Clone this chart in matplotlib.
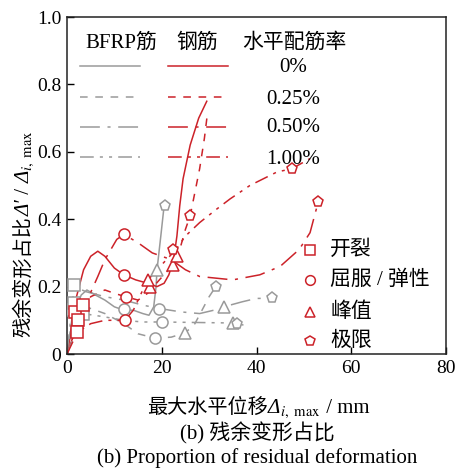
import matplotlib
matplotlib.use("Agg")
import matplotlib.pyplot as plt

plt.rcParams['font.family'] = ['Liberation Serif', 'Noto Sans CJK SC']
plt.rcParams['mathtext.fontset'] = 'stix'

RED = '#cc2229'
GRAY = '#9a9a9a'

ratios = ['0%', '0.25%', '0.50%', '1.00%']

# curves ----------------------------------------------------------------------
# BFRP bars
bfrp_x = [
    [0, 1, 2, 3, 4.2, 6, 8, 10, 12, 14, 16, 17.3, 18.3, 18.8, 19, 19.8, 20.5],
    [0, 1.5, 4, 8, 12, 15, 18.6, 22, 25, 27, 28.5, 30, 31.4],
    [0, 1.5, 4, 8, 12, 16, 19.5, 24, 28, 31, 33.1, 37, 40, 43.2],
    [0, 3.4, 8, 12, 16, 20, 25, 30, 35, 35.9, 38.2],
]
bfrp_y = [
    [0, 0.08, 0.14, 0.175, 0.19, 0.175, 0.16, 0.14, 0.13, 0.13, 0.12, 0.115, 0.14, 0.2, 0.25, 0.35, 0.44],
    [0, 0.15, 0.14, 0.12, 0.09, 0.06, 0.047, 0.05, 0.063, 0.09, 0.13, 0.17, 0.2],
    [0, 0.2, 0.185, 0.17, 0.16, 0.145, 0.135, 0.125, 0.12, 0.13, 0.14, 0.155, 0.165, 0.165],
    [0, 0.12, 0.11, 0.1, 0.095, 0.095, 0.094, 0.093, 0.092, 0.09, 0.083],
]

# steel bars
steel_x = [
    [0, 1, 2, 3.5, 5, 6.5, 8, 10, 12, 14.5, 17, 19, 20.5, 21.5, 22.5, 23.2, 23.8, 24.5, 26, 27.8, 29.5],
    [0, 2.5, 5, 8, 10, 12.4, 15, 17, 19.5, 22.4, 24, 25, 26, 27, 28, 29, 29.7],
    [0, 3, 6.5, 8, 10.5, 12, 15, 18, 22, 25, 28, 35, 40.7, 45, 49, 51.3, 53],
    [0, 2.2, 5, 8, 12.2, 14, 16, 17.1, 19, 21, 23, 25, 28, 31.6, 34.4, 38.6, 44.3, 47.5, 51.3],
]
steel_y = [
    [0, 0.08, 0.17, 0.25, 0.29, 0.305, 0.29, 0.255, 0.235, 0.22, 0.21, 0.2, 0.21, 0.235, 0.28, 0.35, 0.44, 0.52, 0.62, 0.7, 0.75],
    [0, 0.1, 0.17, 0.19, 0.18, 0.17, 0.16, 0.18, 0.22, 0.265, 0.32, 0.37, 0.41, 0.48, 0.55, 0.64, 0.72],
    [0, 0.12, 0.23, 0.28, 0.34, 0.355, 0.33, 0.3, 0.28, 0.25, 0.23, 0.22, 0.235, 0.26, 0.31, 0.36, 0.45],
    [0, 0.065, 0.09, 0.1, 0.1, 0.13, 0.19, 0.22, 0.25, 0.28, 0.31, 0.35, 0.39, 0.43, 0.46, 0.5, 0.54, 0.55, 0.58],
]

# stage markers (one per reinforcement ratio) ---------------------------------
bfrp_crack_x = [1.2, 1.5, 1.5, 3.4]
bfrp_crack_y = [0.13, 0.15, 0.205, 0.12]
bfrp_yield_x = [12, 18.6, 19.4, 20]
bfrp_yield_y = [0.135, 0.047, 0.135, 0.095]
bfrp_peak_x = [19, 24.9, 33.1, 35]
bfrp_peak_y = [0.25, 0.063, 0.14, 0.092]
bfrp_ult_x = [20.7, 31.4, 43.2, 35.9]
bfrp_ult_y = [0.44, 0.2, 0.165, 0.09]

steel_crack_x = [1.7, 3.4, 2.3, 2.1]
steel_crack_y = [0.125, 0.145, 0.1, 0.065]
steel_yield_x = [12, 12.4, 12, 12.2]
steel_yield_y = [0.235, 0.17, 0.355, 0.1]
steel_peak_x = [17.5, 22.4, 23.2, 17.1]
steel_peak_y = [0.2, 0.265, 0.29, 0.22]
steel_ult_x = [22.4, 26, 53, 47.5]
steel_ult_y = [0.31, 0.41, 0.45, 0.55]

styles = ['-', (0, (5, 5)), (0, (13, 5, 2, 5)), (0, (9, 4, 2, 4, 2, 4))]
stages = [('s', '开裂'), ('o', '屈服 / 弹性'), ('^', '峰值'), ('p', '极限')]

fig = plt.figure(figsize=(4.58, 4.70), dpi=100)
ax = fig.add_axes([0.1463, 0.2468, 0.8275, 0.717])

for i in range(4):
    ax.plot(bfrp_x[i], bfrp_y[i], color=GRAY, lw=1.1, ls=styles[i])
    ax.plot(steel_x[i], steel_y[i], color=RED, lw=1.1, ls=styles[i])

mk = dict(ms=8, mfc='white', mew=1.1, ls='none', zorder=3)
bfrp_pts = [(bfrp_crack_x, bfrp_crack_y), (bfrp_yield_x, bfrp_yield_y),
            (bfrp_peak_x, bfrp_peak_y), (bfrp_ult_x, bfrp_ult_y)]
steel_pts = [(steel_crack_x, steel_crack_y), (steel_yield_x, steel_yield_y),
             (steel_peak_x, steel_peak_y), (steel_ult_x, steel_ult_y)]
for (m, lab), (bx, by), (sx, sy) in zip(stages, bfrp_pts, steel_pts):
    ax.plot(bx, by, marker=m, mec=GRAY, **mk)
    ax.plot(sx, sy, marker=m, mec=RED, **mk)

ax.set_xlim(0, 80)
ax.set_ylim(0, 1.0)
ax.set_xticks([0, 20, 40, 60, 80])
ax.set_yticks([0, 0.2, 0.4, 0.6, 0.8, 1.0])
ax.set_yticklabels(['0', '0.2', '0.4', '0.6', '0.8', '1.0'])
ax.tick_params(direction='in', labelsize=14, length=5, width=1, pad=4)
for s in ax.spines.values():
    s.set_linewidth(1.1)
    s.set_color('#222222')

# legend for line styles ------------------------------------------------------
tr = ax.transAxes
ax.text(0.143, 0.923, 'BFRP筋', transform=tr, ha='center', va='center', fontsize=15)
ax.text(0.344, 0.923, '钢筋', transform=tr, ha='center', va='center', fontsize=15)
ax.text(0.462, 0.923, '水平配筋率', transform=tr, ha='left', va='center', fontsize=15)
row_y = [0.855, 0.763, 0.674, 0.585]
lab_y = [0.849, 0.754, 0.671, 0.576]
for i in range(4):
    ax.plot([0.034, 0.193], [row_y[i]] * 2, transform=tr, color=GRAY, lw=1.1, ls=styles[i])
    ax.plot([0.266, 0.425], [row_y[i]] * 2, transform=tr, color=RED, lw=1.1, ls=styles[i])
    ax.text(0.596, lab_y[i], ratios[i], transform=tr, ha='center', va='center', fontsize=15)

# legend for stage markers ----------------------------------------------------
stage_y = [0.309, 0.22, 0.125, 0.039]
for (m, lab), yy in zip(stages, stage_y):
    ax.plot([0.641], [yy], transform=tr, marker=m, ms=7, mfc='white', mec=RED, mew=1.1, ls='none')
    ax.text(0.694, yy, lab, transform=tr, ha='left', va='center', fontsize=15)


# axis labels built from pieces (CJK text, italic Delta, math subscript) -------
renderer = fig.canvas.get_renderer()
W, H = fig.bbox.width, fig.bbox.height


def chain_text(x, y, pieces, vertical=False):
    for txt, kw in pieces:
        if vertical:
            t = fig.text(x, y, txt, rotation=90, rotation_mode='anchor',
                         ha='left', va='baseline', **kw)
            y = t.get_window_extent(renderer).y1 / H
        else:
            t = fig.text(x, y, txt, ha='left', va='baseline', **kw)
            x = t.get_window_extent(renderer).x1 / W


sub = r'${}_{i,\ \mathrm{max}}$'
chain_text(0.321, 0.121, [
    ('最大水平位移', dict(fontsize=14.5)),
    ('Δ', dict(fontsize=15, style='italic')),
    (sub, dict(fontsize=15)),
    (' / mm', dict(fontsize=15)),
])
chain_text(0.064, 0.283, [
    ('残余变形占比', dict(fontsize=14.5)),
    ('Δ′', dict(fontsize=15, style='italic')),
    (' / ', dict(fontsize=15)),
    ('Δ', dict(fontsize=15, style='italic')),
    (sub, dict(fontsize=15)),
], vertical=True)

fig.text(0.561, 0.077, '(b) 残余变形占比', ha='center', va='center', fontsize=15)
fig.text(0.561, 0.025, '(b) Proportion of residual deformation', ha='center', va='center', fontsize=15)

fig.savefig('out.png', dpi=100)
